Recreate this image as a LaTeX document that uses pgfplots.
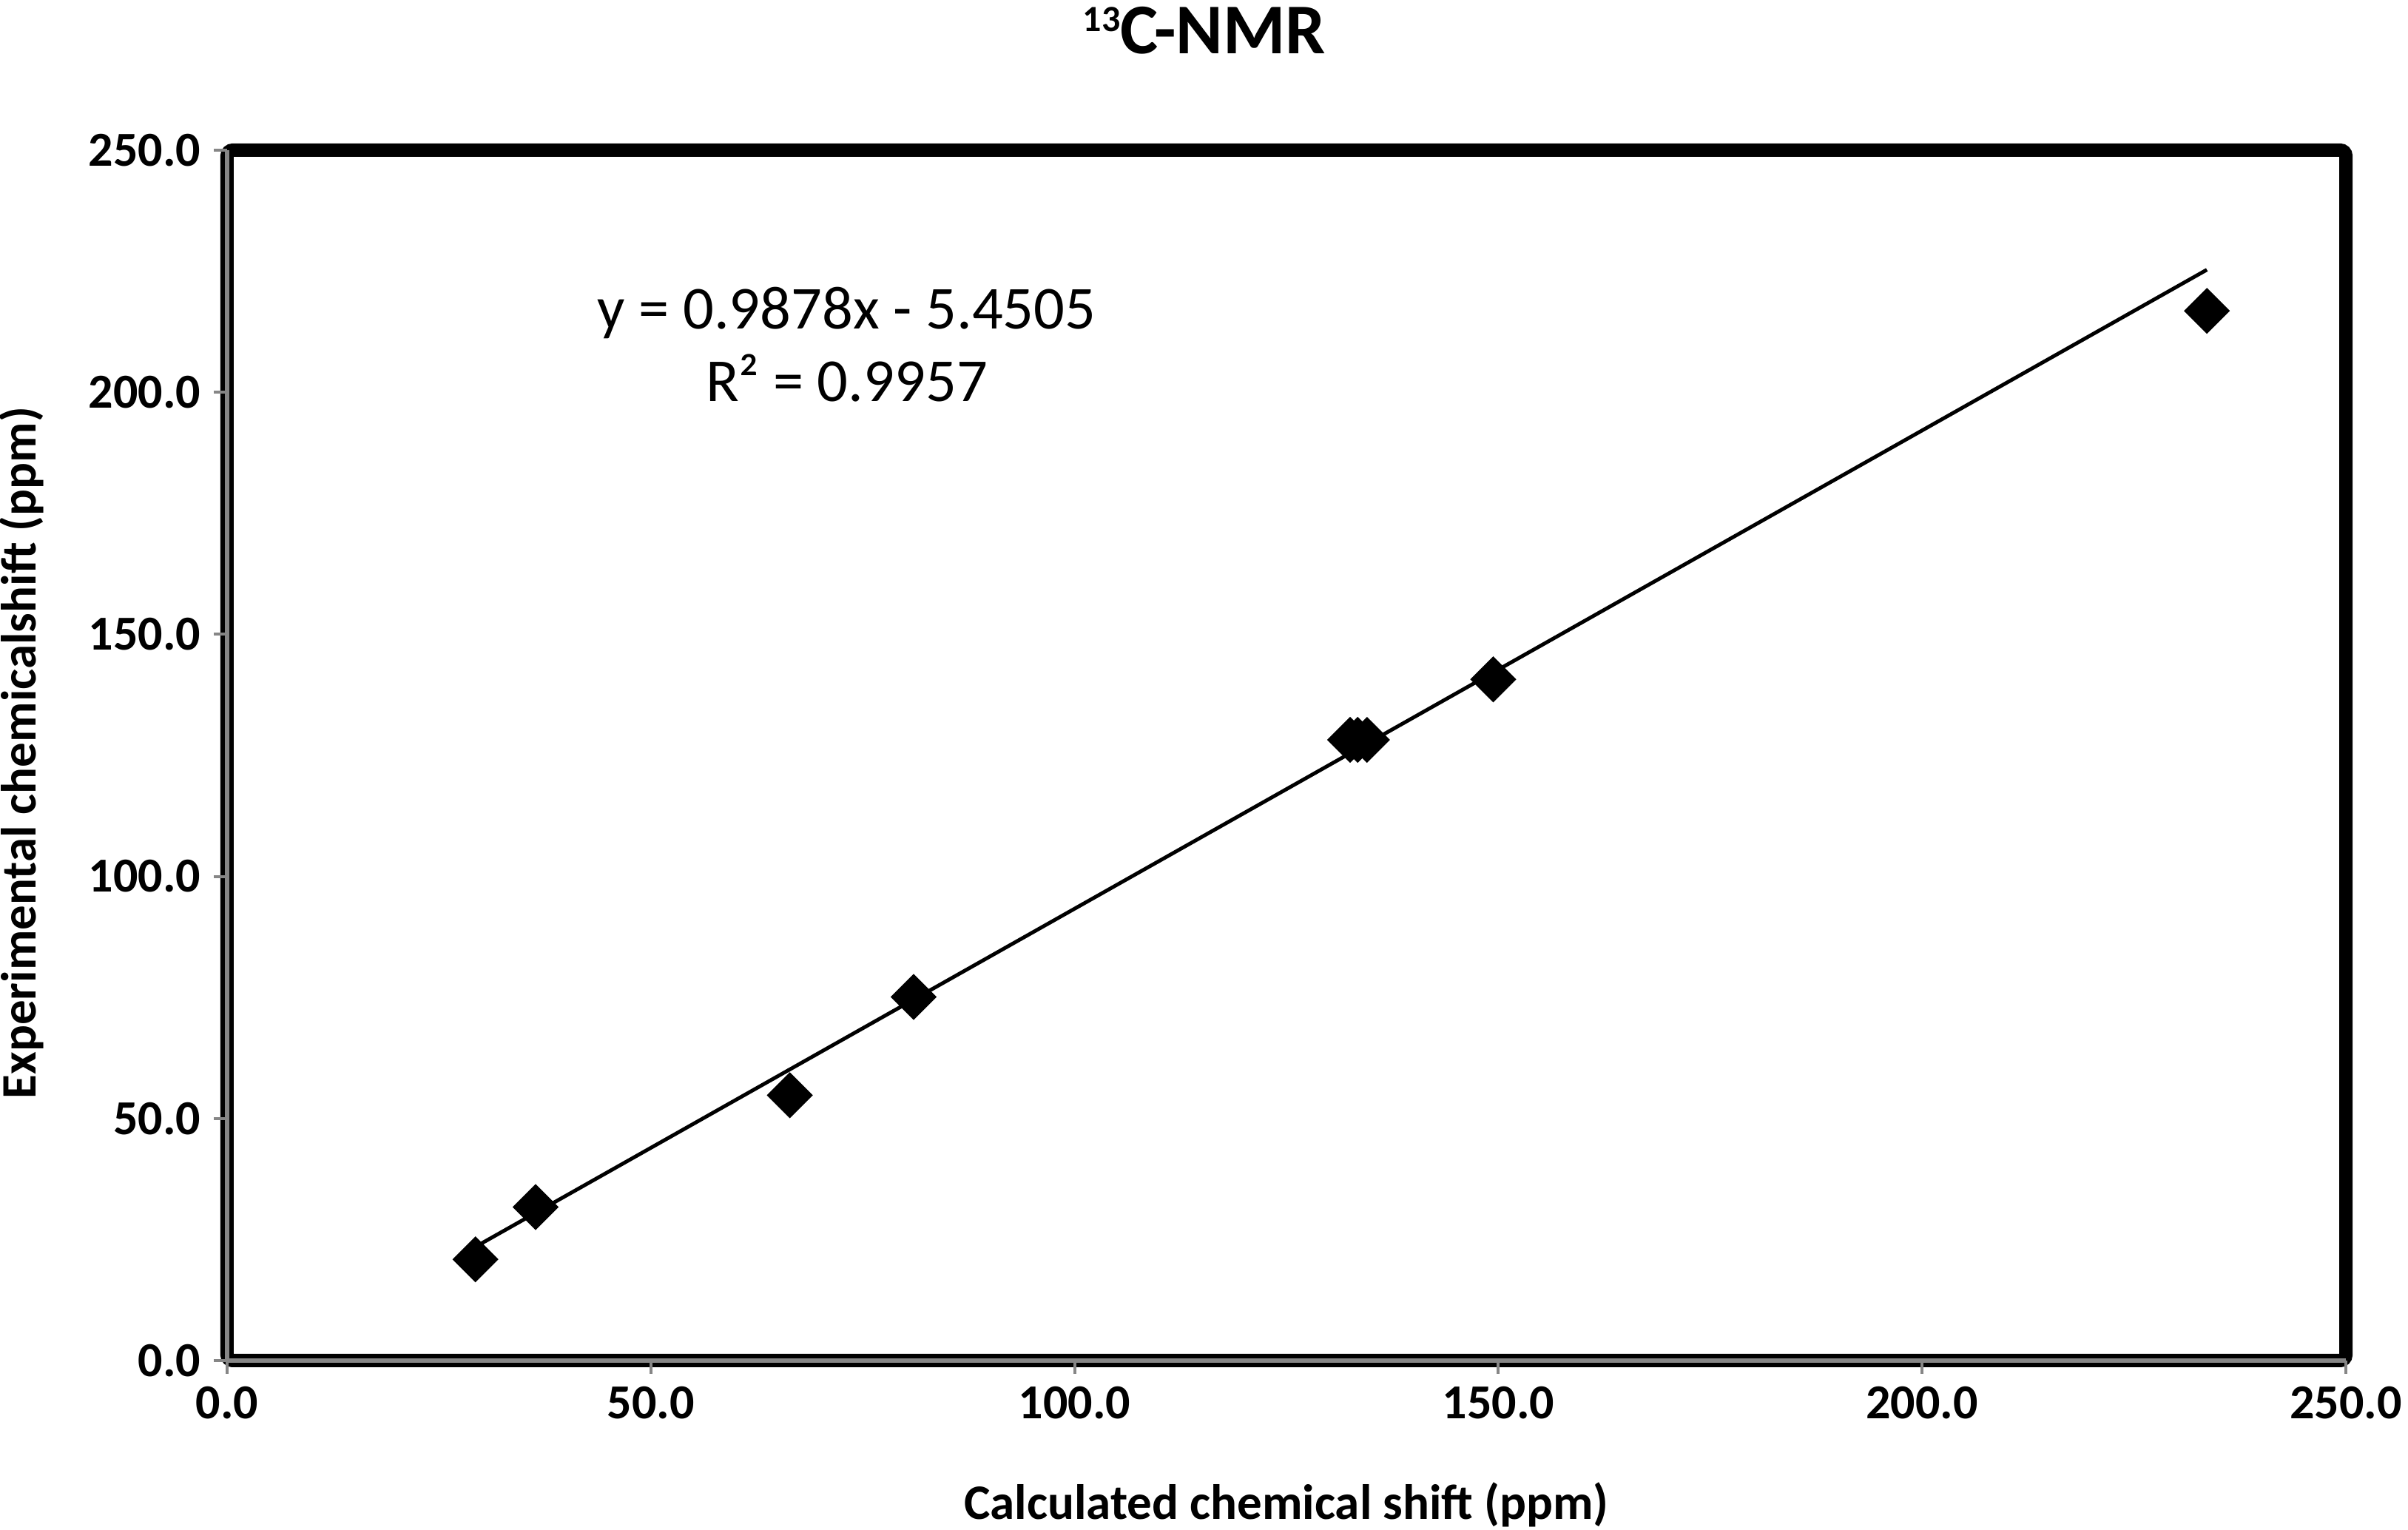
\documentclass[border=0pt]{standalone}
\usepackage{pgfplots}
\pgfplotsset{compat=1.18}
\usepackage{fontspec}
\setmainfont{Carlito}
\definecolor{axgray}{RGB}{134,134,134}
\begin{document}
\begin{tikzpicture}
\useasboundingbox (-61.4pt,-45.8pt) rectangle (589.6pt,367.8pt);
\begin{axis}[
  at={(0,0)}, anchor=south west,
  scale only axis, width=572.8pt, height=327.2pt,
  xmin=0, xmax=250, ymin=0, ymax=250,
  xtick={0,50,...,250}, ytick={0,50,...,250},
  axis x line*=bottom, axis y line*=left,
  axis line style={axgray, line width=1.3pt, -},
  axis background/.style={draw=black, line width=3.6pt, rounded corners=1.5pt},
  tick align=outside, major tick length=3.6pt,
  tick style={axgray, line width=0.8pt},
  /pgf/number format/.cd, fixed, fixed zerofill, precision=1, assume math mode=true,
  /pgfplots/.cd,
  ticklabel style={font=\fontsize{13.2}{15}\selectfont\bfseries},
  xlabel={Calculated chemical shift (ppm)},
  ylabel={Experimental chemicalshift (ppm)},
  label style={font=\fontsize{13.4}{15}\selectfont\bfseries},
  xlabel style={at={(0.5,-0.119)}, anchor=center},
  ylabel style={at={(-0.0971,0.502)}, anchor=center},
  clip=false,
]
\addplot[black, line width=1pt] coordinates {(29.3,23.49) (233.6,225.30)};
\addplot[only marks, mark=square*, mark size=4.2pt, mark options={rotate=45, fill=black, draw=black}, black]
  coordinates {(29.3,20.9) (36.4,31.7) (66.4,54.8) (81.0,75.1) (132.5,128.2) (133.4,128.2) (134.5,128.2) (149.4,140.7) (233.6,216.8)};
\node[font=\fontsize{16.5}{19.6}\selectfont, align=center] at (axis cs:73.1,209.8) {y = 0.9878x - 5.4505\\R² = 0.9957};
\node[font=\fontsize{19.3}{22}\selectfont\bfseries, anchor=base, inner sep=0pt] at (axis description cs:0.4612,1.0795) {\raisebox{6.1pt}{\fontsize{10}{12}\selectfont 13}C-NMR};
\end{axis}
\end{tikzpicture}
\end{document}
